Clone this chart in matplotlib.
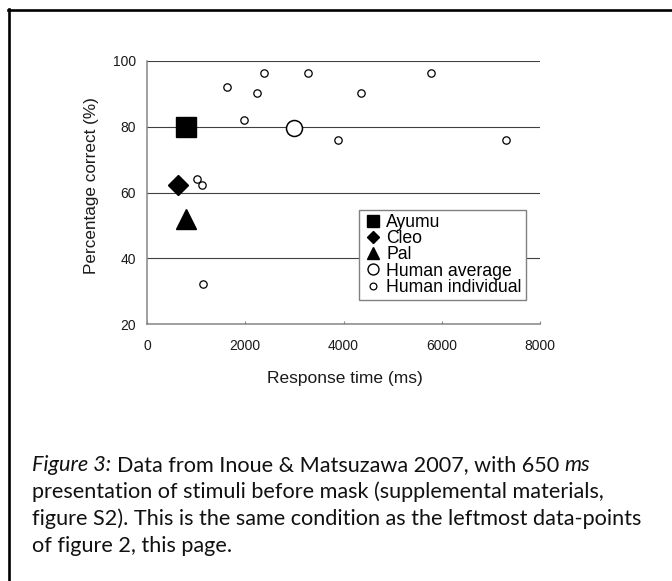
import matplotlib
matplotlib.use("Agg")
import matplotlib.pyplot as plt
from matplotlib.lines import Line2D

plt.rcParams['font.family'] = ['Liberation Sans', 'DejaVu Sans']

# response time (ms) and percentage correct
ayumu_rt, ayumu_pc = [790], [80.0]
cleo_rt, cleo_pc = [630], [62.2]
pal_rt, pal_pc = [786], [51.8]
avg_rt, avg_pc = [3000], [79.7]
indiv_rt = [1627, 2373, 3268, 5790, 2237, 4359, 1973, 3898, 7315, 1024, 1119, 1146]
indiv_pc = [92.1, 96.4, 96.4, 96.4, 90.3, 90.3, 82.2, 76.1, 76.1, 64.1, 62.4, 32.2]

x_ticks = [0, 2000, 4000, 6000, 8000]
y_ticks = [20, 40, 60, 80, 100]
legend_labels = ["Ayumu", "Cleo", "Pal", "Human average", "Human individual"]

caption_lines = [
    [("Figure 3:", "italic"), ("Data from Inoue & Matsuzawa 2007, with 650", "normal"), ("ms", "italic")],
    [("presentation of stimuli before mask (supplemental materials,", "normal")],
    [("figure S2). This is the same condition as the leftmost data-points", "normal")],
    [("of figure 2, this page.", "normal")],
]

W, H = 672, 581
fig = plt.figure(figsize=(W / 100, H / 100), dpi=100)
ax = fig.add_axes([147 / W, 1 - 324 / H, 393 / W, 263 / H])

ax.plot(indiv_rt, indiv_pc, 'o', ms=5.3, mfc='white', mec='black', mew=0.9, zorder=3)
ax.plot(avg_rt, avg_pc, 'o', ms=11.5, mfc='white', mec='black', mew=1.1, zorder=3)
ax.plot(ayumu_rt, ayumu_pc, 's', ms=14.2, color='black', zorder=4)
ax.plot(cleo_rt, cleo_pc, 'D', ms=9.7, color='black', zorder=4)
ax.plot(pal_rt, pal_pc, '^', ms=14.4, color='black', zorder=4)

ax.set_xlim(0, 8000)
ax.set_ylim(20, 100)
ax.set_xticks(x_ticks)
ax.set_yticks(y_ticks)
ax.yaxis.grid(True, color='#404040', lw=0.8)
ax.set_axisbelow(True)
for s in ['top', 'right']:
    ax.spines[s].set_visible(False)
for s in ['left', 'bottom']:
    ax.spines[s].set_color('#868686')
    ax.spines[s].set_linewidth(1.1)
ax.tick_params(axis='x', direction='in', length=2.5, color='#868686', labelsize=10, pad=11, labelcolor='#1a1a1a')
ax.tick_params(axis='y', length=0, labelsize=10, pad=8, labelcolor='#1a1a1a')

handles = [
    Line2D([], [], ls='none', marker='s', ms=8.2, color='black'),
    Line2D([], [], ls='none', marker='D', ms=6.3, color='black'),
    Line2D([], [], ls='none', marker='^', ms=8.6, color='black'),
    Line2D([], [], ls='none', marker='o', ms=7.9, mfc='white', mec='black', mew=1.0),
    Line2D([], [], ls='none', marker='o', ms=4.9, mfc='white', mec='black', mew=0.9),
]
leg = ax.legend(handles, legend_labels, loc='lower left', bbox_to_anchor=(0.539, 0.092),
                fontsize=12.7, frameon=True, fancybox=False, framealpha=1, edgecolor='#808080',
                borderpad=0.22, labelspacing=-0.04, handlelength=1.18, handletextpad=0.165,
                borderaxespad=0)
leg.get_frame().set_linewidth(1.0)

fig.text(91.5 / W, 1 - 185.5 / H, "Percentage correct (%)", rotation=90, ha='center', va='center',
         fontsize=12.3, color='#1a1a1a')
fig.text(344.5 / W, 1 - 382.6 / H, "Response time (ms)", ha='center', va='baseline',
         fontsize=12.5, color='#1a1a1a')

# frame of the page
fig.add_artist(Line2D([8 / W, 1], [1 - 9.5 / H] * 2, transform=fig.transFigure, color='black', lw=1.9))
fig.add_artist(Line2D([8.7 / W] * 2, [0, 1 - 8.5 / H], transform=fig.transFigure, color='black', lw=1.9))

# caption, pieces laid one after the other with a space between them
renderer = fig.canvas.get_renderer()
cap_fs = 15.6


def text_width(s, style):
    t = fig.text(0, 0, s, fontsize=cap_fs, style=style, family='Lato')
    w = t.get_window_extent(renderer).width
    t.remove()
    return w


space_w = text_width("n n", "normal") - text_width("nn", "normal")
baselines = [471, 498, 525, 552]
for line, yb in zip(caption_lines, baselines):
    x = 32
    for txt, style in line:
        t = fig.text(x / W, 1 - yb / H, txt, fontsize=cap_fs, style=style, family='Lato',
                     va='baseline', ha='left', color='#111111')
        x = t.get_window_extent(renderer).x1 + space_w

fig.savefig("out.png", dpi=100)
